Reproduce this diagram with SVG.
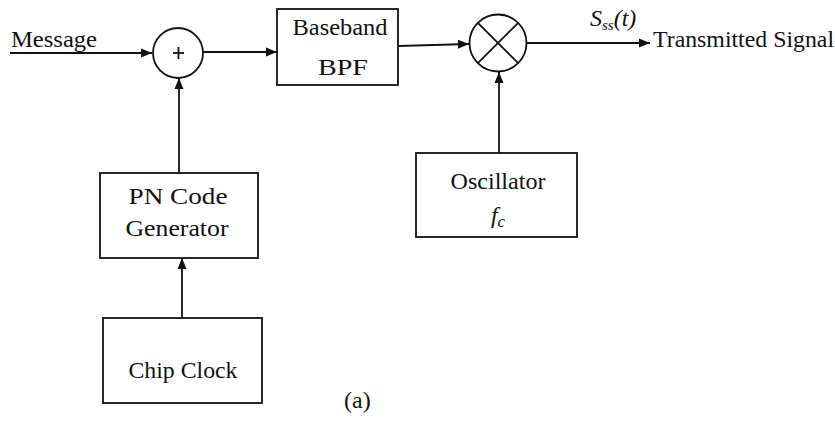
<svg xmlns="http://www.w3.org/2000/svg" width="835" height="421" viewBox="0 0 835 421">
<style>
  .box{fill:#fff;stroke:#111;stroke-width:1.8}
  .ln{fill:none;stroke:#111;stroke-width:1.8}
  text{font-family:"Liberation Serif","Times New Roman",serif;fill:#111;font-size:24px}
  .c{text-anchor:middle}
</style>
<defs>
  <marker id="ah" markerWidth="12" markerHeight="10" refX="11" refY="5" orient="auto" markerUnits="userSpaceOnUse">
    <path d="M0,0.5 L11,5 L0,9.5 Z" fill="#111"/>
  </marker>
</defs>
<rect width="835" height="421" fill="#fff"/>

<g id="connectors">
  <line class="ln" x1="10" y1="53" x2="152" y2="53" marker-end="url(#ah)"/>
  <line class="ln" x1="203" y1="52" x2="277" y2="52" marker-end="url(#ah)"/>
  <line class="ln" x1="398" y1="46" x2="469" y2="44" marker-end="url(#ah)"/>
  <line class="ln" x1="527" y1="43" x2="650" y2="43" marker-end="url(#ah)"/>
  <line class="ln" x1="179" y1="173" x2="179" y2="78" marker-end="url(#ah)"/>
  <line class="ln" x1="182" y1="318" x2="182" y2="258" marker-end="url(#ah)"/>
  <line class="ln" x1="499" y1="153" x2="499" y2="72" marker-end="url(#ah)"/>
</g>

<g id="message-label">
  <text x="11" y="47" textLength="86" lengthAdjust="spacingAndGlyphs">Message</text>
</g>

<g id="adder">
  <circle class="box" cx="178" cy="53" r="25"/>
  <line class="ln" x1="173" y1="53" x2="184" y2="53"/>
  <line class="ln" x1="178.5" y1="47" x2="178.5" y2="59"/>
</g>

<g id="baseband-bpf">
  <rect class="box" x="277" y="9" width="121" height="76"/>
  <text class="c" x="340" y="35" textLength="95" lengthAdjust="spacingAndGlyphs">Baseband</text>
  <text class="c" x="343" y="75" textLength="50" lengthAdjust="spacingAndGlyphs">BPF</text>
</g>

<g id="mixer">
  <circle class="box" cx="498" cy="43" r="28.5"/>
  <line class="ln" x1="477.8" y1="22.8" x2="518.2" y2="63.2"/>
  <line class="ln" x1="518.2" y1="22.8" x2="477.8" y2="63.2"/>
</g>

<g id="output-label">
  <text x="590" y="26" font-style="italic" font-size="22">S<tspan font-size="15" dy="4">ss</tspan><tspan dy="-4">(t)</tspan></text>
  <text x="653" y="47" textLength="181" lengthAdjust="spacingAndGlyphs">Transmitted Signal</text>
</g>

<g id="pn-code-generator">
  <rect class="box" x="100" y="173" width="158" height="85"/>
  <text class="c" x="178" y="204" textLength="99" lengthAdjust="spacingAndGlyphs">PN Code</text>
  <text class="c" x="177" y="236" textLength="103" lengthAdjust="spacingAndGlyphs">Generator</text>
</g>

<g id="chip-clock">
  <rect class="box" x="103" y="318" width="159" height="85"/>
  <text class="c" x="183" y="378" textLength="109" lengthAdjust="spacingAndGlyphs">Chip Clock</text>
</g>

<g id="oscillator">
  <rect class="box" x="416" y="153" width="161" height="84"/>
  <text class="c" x="498" y="189" textLength="95" lengthAdjust="spacingAndGlyphs">Oscillator</text>
  <text class="c" x="498" y="223" font-style="italic" font-size="25">f<tspan font-size="17" dy="4">c</tspan></text>
</g>

<g id="caption">
  <text x="344" y="408" font-size="20">(a)</text>
</g>
</svg>
